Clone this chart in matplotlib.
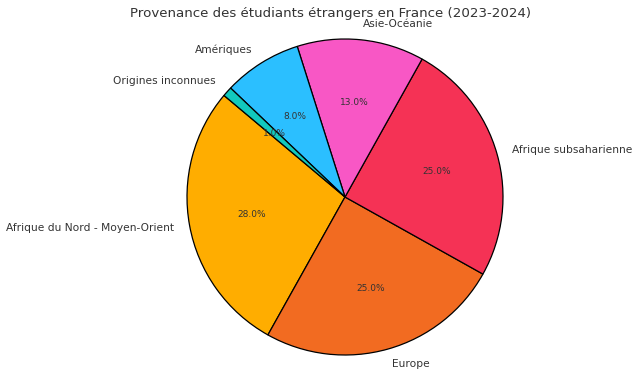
import matplotlib
matplotlib.use("Agg")
import matplotlib.pyplot as plt

labels = ["Afrique du Nord - Moyen-Orient", "Europe", "Afrique subsaharienne",
          "Asie-Océanie", "Amériques", "Origines inconnues"]
values = [28, 25, 25, 13, 8, 1]
colors = ["#FFAD00", "#F26B21", "#F53255", "#F857C5", "#2BBFFF", "#12C9BD"]

fig = plt.figure(figsize=(6.4, 3.76), dpi=100)
cx, cy, r = 345, 197, 158
ax = fig.add_axes([(cx - r) / 640, (376 - cy - r) / 376, 2 * r / 640, 2 * r / 376])
wedges, texts, autotexts = ax.pie(
    values, labels=labels, colors=colors, startangle=140, autopct="%1.1f%%",
    pctdistance=0.6, labeldistance=1.1,
    wedgeprops=dict(edgecolor="black", linewidth=0.9),
    textprops=dict(color="#333333", fontsize=7.7))
for t in autotexts:
    t.set_fontsize(6.5)
ax.set_xlim(-1, 1)
ax.set_ylim(-1, 1)
ax.set_aspect("equal")
ax.axis("off")
fig.text(331 / 640, 1 - 13 / 376, "Provenance des étudiants étrangers en France (2023-2024)",
         ha="center", va="center", fontsize=9.6, color="#333333")
fig.savefig("out.png", dpi=100)
